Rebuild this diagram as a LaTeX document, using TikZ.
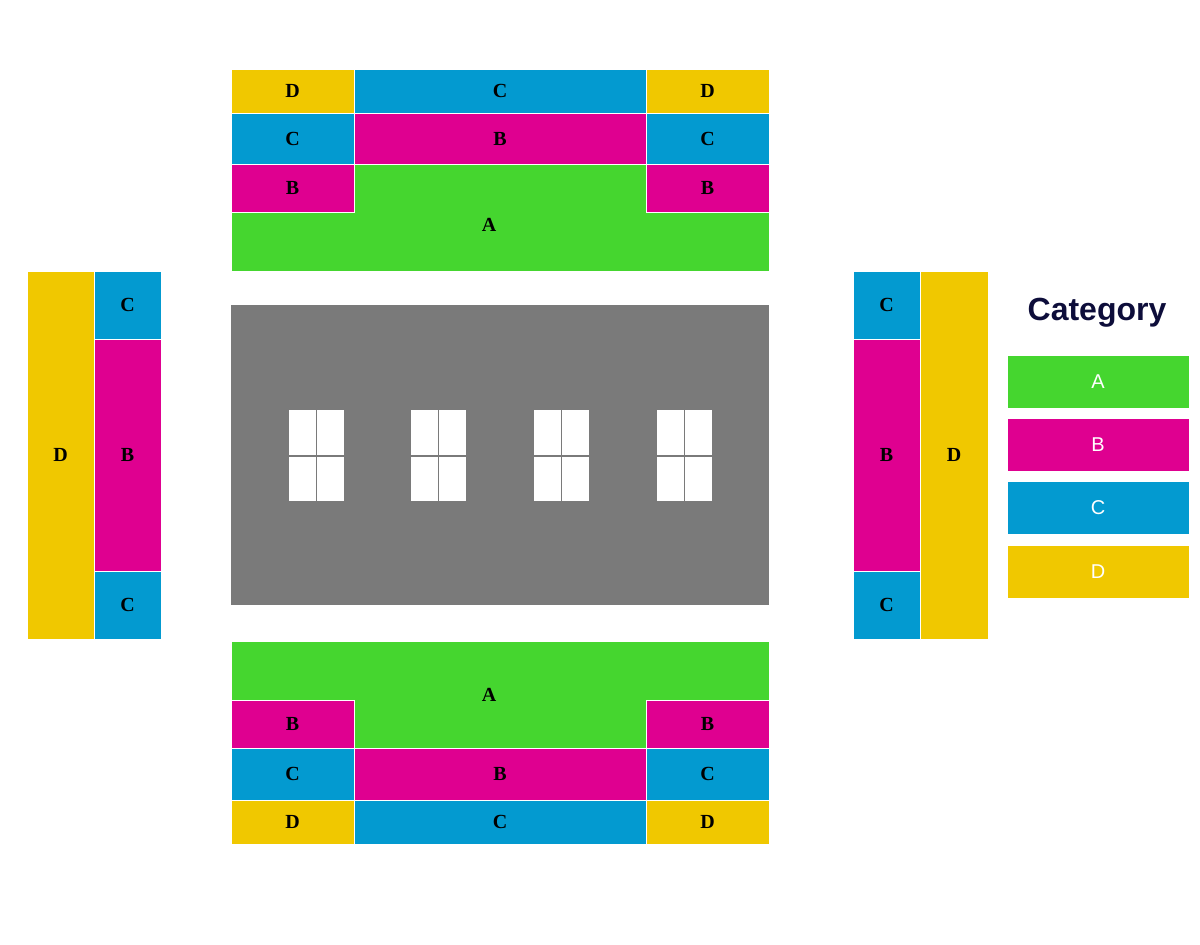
\documentclass[tikz,border=0pt]{standalone}
\usepackage{fontspec}
\setmainfont{Liberation Serif}
\newfontfamily\legfont{Liberation Sans}
\definecolor{cA}{HTML}{45D62F}
\definecolor{cB}{HTML}{DF0090}
\definecolor{cC}{HTML}{039AD0}
\definecolor{cD}{HTML}{F0C800}
\definecolor{stage}{HTML}{7A7A7A}
\definecolor{navy}{HTML}{0D0D3A}
\begin{document}
\begin{tikzpicture}[x=1pt,y=-1pt,
  blk/.style={draw=white,line width=0.8pt},
  lab/.style={font=\bfseries\fontsize{20}{20}\selectfont,text=black},
  leg/.style={font=\legfont\fontsize{20}{20}\selectfont,text=white}]
\useasboundingbox (0,0) rectangle (1200,945);
\newcommand\seat[6]{\fill[#1,blk] (#2,#3) rectangle (#4,#5); \node[lab] at ({(#2+#4)/2},{(#3+#5)/2}) {#6};}
% top block
\seat{cD}{231}{69}{354}{113}{D}
\seat{cC}{354}{69}{646}{113}{C}
\seat{cD}{646}{69}{769}{113}{D}
\seat{cC}{231}{113}{354}{164}{C}
\seat{cB}{354}{113}{646}{164}{B}
\seat{cC}{646}{113}{769}{164}{C}
\seat{cB}{231}{164}{354}{212}{B}
\seat{cB}{646}{164}{769}{212}{B}
\fill[cA,blk] (354,164) -- (646,164) -- (646,212) -- (769,212) -- (769,271) -- (231,271) -- (231,212) -- (354,212) -- cycle;
\node[lab] (tA) at (489,225) {A};
% bottom block
\fill[cA,blk] (231,641) -- (769,641) -- (769,700) -- (646,700) -- (646,748) -- (354,748) -- (354,700) -- (231,700) -- cycle;
\node[lab] (bA) at (489,695) {A};
\seat{cB}{231}{700}{354}{748}{B}
\seat{cB}{646}{700}{769}{748}{B}
\seat{cC}{231}{748}{354}{800}{C}
\seat{cB}{354}{748}{646}{800}{B}
\seat{cC}{646}{748}{769}{800}{C}
\seat{cD}{231}{800}{354}{844}{D}
\seat{cC}{354}{800}{646}{844}{C}
\seat{cD}{646}{800}{769}{844}{D}
% left
\seat{cD}{27}{271}{94}{639}{D}
\seat{cC}{94}{271}{161}{339}{C}
\seat{cB}{94}{339}{161}{571}{B}
\seat{cC}{94}{571}{161}{639}{C}
% right
\seat{cC}{853}{271}{920}{339}{C}
\seat{cB}{853}{339}{920}{571}{B}
\seat{cC}{853}{571}{920}{639}{C}
\seat{cD}{920}{271}{988}{639}{D}
% stage
\fill[stage] (231,305) rectangle (769,605);
\foreach \x in {289,411,534,657}{
  \fill[white] (\x,410) rectangle (\x+55,501);
  \draw[stage,line width=1.5pt] (\x+27.5,410) -- (\x+27.5,501) (\x,456) -- (\x+55,456);
}
% legend
\node[font=\legfont\bfseries\fontsize{32}{32}\selectfont,text=navy] (cat) at (1097,313) {Category};
\fill[cA] (1008,356) rectangle (1189,408); \node[leg] (lA) at (1098,382) {A};
\fill[cB] (1008,419) rectangle (1189,471); \node[leg] (lB) at (1098,445) {B};
\fill[cC] (1008,482) rectangle (1189,534); \node[leg] (lC) at (1098,508) {C};
\fill[cD] (1008,546) rectangle (1189,598); \node[leg] (lD) at (1098,572) {D};
\end{tikzpicture}
\end{document}
